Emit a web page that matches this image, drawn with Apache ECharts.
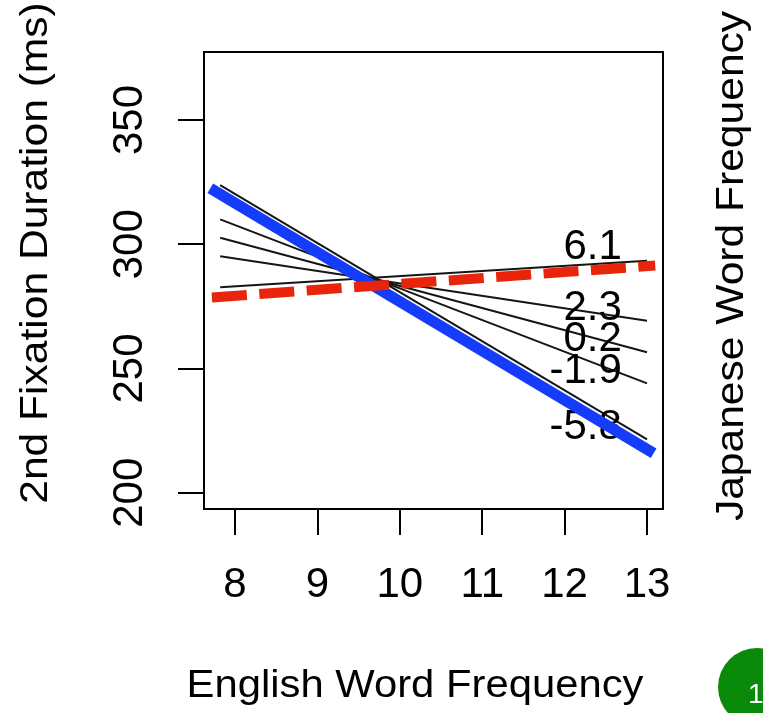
<!DOCTYPE html>
<html><head><meta charset="utf-8">
<script src="https://cdn.jsdelivr.net/npm/echarts@6/dist/echarts.min.js"></script>
<style>html,body{margin:0;padding:0;background:#fff}#c{width:763px;height:713px}</style>
</head><body><div id="c"></div>
<script>
const xTicks = [8, 9, 10, 11, 12, 13];
const yTicks = [200, 250, 300, 350];
const levels = ['6.1', '2.3', '0.2', '-1.9', '-5.8'];
const lineX = [7.82, 13.0];
const lineStartY = [282.7, 295.2, 302.6, 310.0, 323.8];
const lineEndY = [293.4, 269.2, 256.5, 244.0, 221.5];
const labelX = 12.7;
const labelY = [298.6, 274.1, 261.7, 249.0, 226.1];
const blueX = [7.70, 13.08];
const blueY = [322.5, 215.9];
const redX = [7.72, 13.10];
const redY = [278.6, 291.4];

const FONT = '"Liberation Sans", Arial, Helvetica, sans-serif';
const chart = echarts.init(document.getElementById('c'), null, {renderer: 'canvas'});

const series = [];
levels.forEach((lv, i) => {
  series.push({
    type: 'line', name: 'JWF ' + lv, z: 2, silent: true,
    showSymbol: false, symbol: 'none',
    data: [[lineX[0], lineStartY[i]], [lineX[1], lineEndY[i]]],
    lineStyle: {color: '#151515', width: 2}
  });
});
series.push({
  type: 'scatter', name: 'labels', z: 2, silent: true,
  symbolSize: 1, itemStyle: {opacity: 0},
  data: levels.map((lv, i) => ({name: lv, value: [labelX, labelY[i]]})),
  label: {show: true, position: 'left', distance: 0, formatter: p => p.name,
    color: '#000', fontSize: 42, fontFamily: FONT, opacity: 1}
});
series.push({
  type: 'line', name: 'blue', z: 3, silent: true, showSymbol: false, symbol: 'none',
  data: blueX.map((x, i) => [x, blueY[i]]),
  lineStyle: {color: '#143cfa', width: 11, cap: 'butt'}
});
series.push({
  type: 'line', name: 'red', z: 4, silent: true, showSymbol: false, symbol: 'none',
  data: redX.map((x, i) => [x, redY[i]]),
  lineStyle: {color: '#e8240a', width: 10, type: [35, 12.5], cap: 'butt'}
});

chart.setOption({
  animation: false,
  backgroundColor: '#fff',
  grid: {left: 204, top: 52, width: 459, height: 457, show: true,
    borderColor: '#000', borderWidth: 2, backgroundColor: 'transparent', containLabel: false},
  xAxis: {
    type: 'value', min: 7.6238, max: 13.194,
    axisLine: {show: false},
    splitLine: {show: false},
    axisTick: {show: true, customValues: xTicks, length: 26, lineStyle: {color: '#000', width: 2}},
    axisLabel: {customValues: xTicks, fontSize: 42, color: '#000', margin: 55, fontFamily: FONT}
  },
  yAxis: {
    type: 'value', min: 193.44, max: 377.37,
    axisLine: {show: false},
    splitLine: {show: false},
    axisTick: {show: true, customValues: yTicks, length: 26, lineStyle: {color: '#000', width: 2}},
    axisLabel: {customValues: yTicks, fontSize: 42, color: '#000', margin: 53, rotate: 90, fontFamily: FONT}
  },
  series: series,
  graphic: [
    {type: 'text', x: 415, y: 687, scaleX: 1.1, style: {text: 'English Word Frequency', fontSize: 38,
      fontFamily: FONT, fill: '#000', align: 'center', verticalAlign: 'middle'}},
    {type: 'text', x: 37, y: 253, rotation: Math.PI / 2, scaleX: 1.12, style: {text: '2nd Fixation Duration (ms)', fontSize: 38,
      fontFamily: FONT, fill: '#000', align: 'center', verticalAlign: 'middle'}},
    {type: 'text', x: 733, y: 266, rotation: Math.PI / 2, scaleX: 1.12, style: {text: 'Japanese Word Frequency', fontSize: 38,
      fontFamily: FONT, fill: '#000', align: 'center', verticalAlign: 'middle'}},
    {type: 'circle', shape: {cx: 757, cy: 687, r: 39}, style: {fill: '#0a8a0a'}},
    {type: 'text', x: 748, y: 695, style: {text: '1', fontSize: 28, fontFamily: FONT, fill: '#fff',
      align: 'left', verticalAlign: 'middle'}}
  ]
});
</script>
</body></html>
